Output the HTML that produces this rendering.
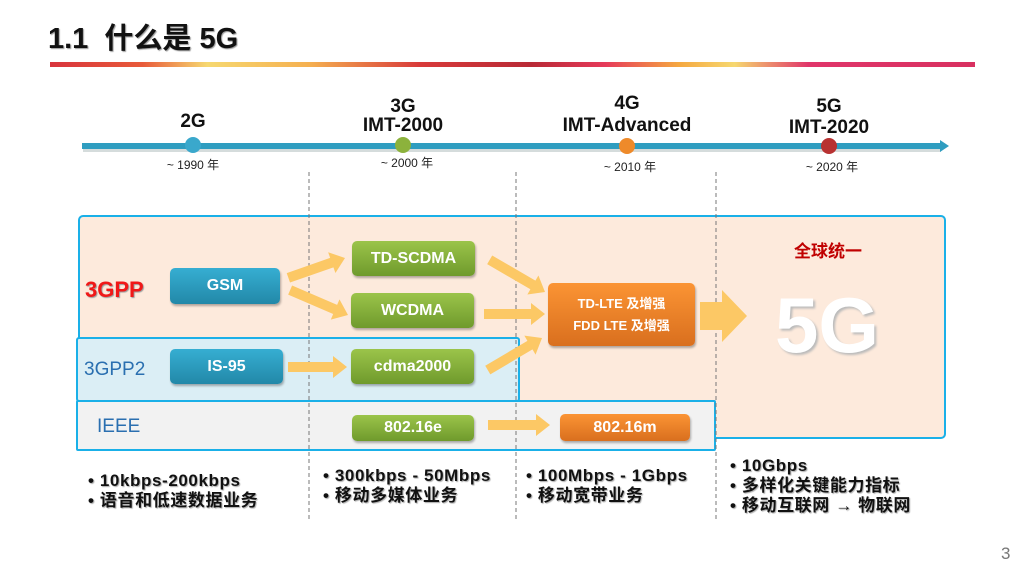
<!DOCTYPE html>
<html><head><meta charset="utf-8"><style>
body{margin:0;width:1024px;height:576px;background:#fff;position:relative;overflow:hidden;font-family:"Liberation Sans","Noto Sans CJK SC",sans-serif}
.a{position:absolute}
.t{font-weight:bold;text-align:center;white-space:nowrap}
.box{position:absolute;border-radius:5px;color:#fff;font-weight:bold;font-size:16px;display:flex;align-items:center;justify-content:center;box-shadow:1px 2px 2px rgba(0,0,0,.3)}
.teal{background:linear-gradient(#36aed2,#2288a8)}
.green{background:linear-gradient(#9bc44a,#6f9a2c)}
.orange{background:linear-gradient(#fb9434,#d96f1e)}
.yr{font-size:12px;color:#222;text-align:center;width:100px}
.bl{font-size:17px;font-weight:bold;color:#111;line-height:20px;text-shadow:1px 1px 1px #aaa;white-space:nowrap;letter-spacing:0.6px}
</style></head><body>
<div class="a t" style="left:48px;top:15px;font-size:29px;color:#111;text-shadow:1px 1px 1px #999">1.1&nbsp; 什么是 5G</div>
<div class="a" style="left:50px;top:62px;width:925px;height:5px;background:linear-gradient(90deg,#d8343c 0%,#e85a3a 10%,#f6d870 17%,#f5b050 28%,#d83a3a 40%,#b82a36 52%,#e63a5a 60%,#f5a840 68%,#f6d870 74%,#e0356a 82%,#d83060 100%)"></div>

<svg class="a" style="left:0;top:0" width="1024" height="576">
<line x1="82" y1="147" x2="940" y2="147" stroke="#9aa" stroke-width="6" transform="translate(1,2)" opacity=".4"/>
<line x1="82" y1="146" x2="940" y2="146" stroke="#2f9dc0" stroke-width="6"/>
<polygon points="940,140 949,146 940,152" fill="#2f9dc0"/>
<circle cx="193" cy="145" r="8" fill="#3aa8cc"/>
<circle cx="403" cy="145" r="8" fill="#8cb23c"/>
<circle cx="627" cy="146" r="8" fill="#ee8a2a"/>
<circle cx="829" cy="146" r="8" fill="#b83232"/>
</svg>
<div class="a t" style="left:143px;top:111px;width:100px;font-size:19px;color:#111">2G</div>
<div class="a t" style="left:353px;top:97px;width:100px;font-size:19px;color:#111;line-height:19px">3G<br>IMT-2000</div>
<div class="a t" style="left:552px;top:93px;width:150px;font-size:19px;color:#111;line-height:22px">4G<br>IMT-Advanced</div>
<div class="a t" style="left:769px;top:96px;width:120px;font-size:19px;color:#111;line-height:21px">5G<br>IMT-2020</div>
<div class="a yr" style="left:143px;top:156px">~ 1990 年</div>
<div class="a yr" style="left:357px;top:154px">~ 2000 年</div>
<div class="a yr" style="left:580px;top:158px">~ 2010 年</div>
<div class="a yr" style="left:782px;top:158px">~ 2020 年</div>

<div class="a" style="left:78px;top:215px;width:864px;height:220px;background:#fdeadc;border:2px solid #1ab0e8;border-radius:5px"></div>
<div class="a" style="left:76px;top:337px;width:440px;height:61px;background:#dbeef5;border:2px solid #1ab0e8;border-radius:3px"></div>
<div class="a" style="left:76px;top:400px;width:636px;height:47px;background:#f2f2f2;border:2px solid #1ab0e8;border-radius:2px"></div>

<svg class="a" style="left:0;top:0" width="1024" height="576">
<g stroke="#777" stroke-width="1" stroke-dasharray="4,3">
<line x1="309" y1="172" x2="309" y2="522"/><line x1="516" y1="172" x2="516" y2="522"/><line x1="716" y1="172" x2="716" y2="522"/>
</g>
<g fill="#fcc865">
<g transform="translate(345,258) rotate(-19.3)"><polygon points="0,0 -14,-11 -14,-5 -60,-5 -60,5 -14,5 -14,11"/></g>
<g transform="translate(348,315) rotate(23.3)"><polygon points="0,0 -14,-11 -14,-5 -63,-5 -63,5 -14,5 -14,11"/></g>
<g transform="translate(347,367)"><polygon points="0,0 -14,-11 -14,-5 -59,-5 -59,5 -14,5 -14,11"/></g>
<g transform="translate(545,292) rotate(30.2)"><polygon points="0,0 -14,-11 -14,-5 -64,-5 -64,5 -14,5 -14,11"/></g>
<g transform="translate(545,314)"><polygon points="0,0 -14,-11 -14,-5 -61,-5 -61,5 -14,5 -14,11"/></g>
<g transform="translate(542,338) rotate(-30.6)"><polygon points="0,0 -14,-11 -14,-5 -63,-5 -63,5 -14,5 -14,11"/></g>
<g transform="translate(550,425)"><polygon points="0,0 -14,-11 -14,-5 -62,-5 -62,5 -14,5 -14,11"/></g>
<polygon points="700,302 722,302 722,290 747,316 722,342 722,330 700,330"/>
</g>
</svg>

<div class="a t" style="left:85px;top:277px;font-size:22px;color:#f01818;text-shadow:1px 1px 1px #999">3GPP</div>
<div class="a" style="left:84px;top:359px;font-size:19px;color:#2a6fb0">3GPP2</div>
<div class="a" style="left:97px;top:416px;font-size:19px;color:#2a6fb0">IEEE</div>

<div class="box teal" style="left:170px;top:268px;width:110px;height:36px">GSM</div>
<div class="box teal" style="left:170px;top:349px;width:113px;height:35px">IS-95</div>
<div class="box green" style="left:352px;top:241px;width:123px;height:35px">TD-SCDMA</div>
<div class="box green" style="left:351px;top:293px;width:123px;height:35px">WCDMA</div>
<div class="box green" style="left:351px;top:349px;width:123px;height:35px">cdma2000</div>
<div class="box green" style="left:352px;top:415px;width:122px;height:26px">802.16e</div>
<div class="box orange" style="left:548px;top:283px;width:147px;height:63px;font-size:13px;line-height:22px;text-align:center">TD-LTE 及增强<br>FDD LTE 及增强</div>
<div class="box orange" style="left:560px;top:414px;width:130px;height:27px">802.16m</div>

<div class="a t" style="left:778px;top:237px;width:100px;font-size:17px;color:#c00000">全球统一</div>
<div class="a t" style="left:757px;top:280px;width:140px;font-size:78px;line-height:90px;color:#fff;text-shadow:2px 2px 2px #bbb">5G</div>

<div class="a bl" style="left:88px;top:471px">• 10kbps-200kbps<br>• 语音和低速数据业务</div>
<div class="a bl" style="left:323px;top:466px">• 300kbps - 50Mbps<br>• 移动多媒体业务</div>
<div class="a bl" style="left:526px;top:466px">• 100Mbps - 1Gbps<br>• 移动宽带业务</div>
<div class="a bl" style="left:730px;top:456px">• 10Gbps<br>• 多样化关键能力指标<br>• 移动互联网 → 物联网</div>
<div class="a" style="left:1001px;top:544px;font-size:17px;color:#777">3</div>
</body></html>
